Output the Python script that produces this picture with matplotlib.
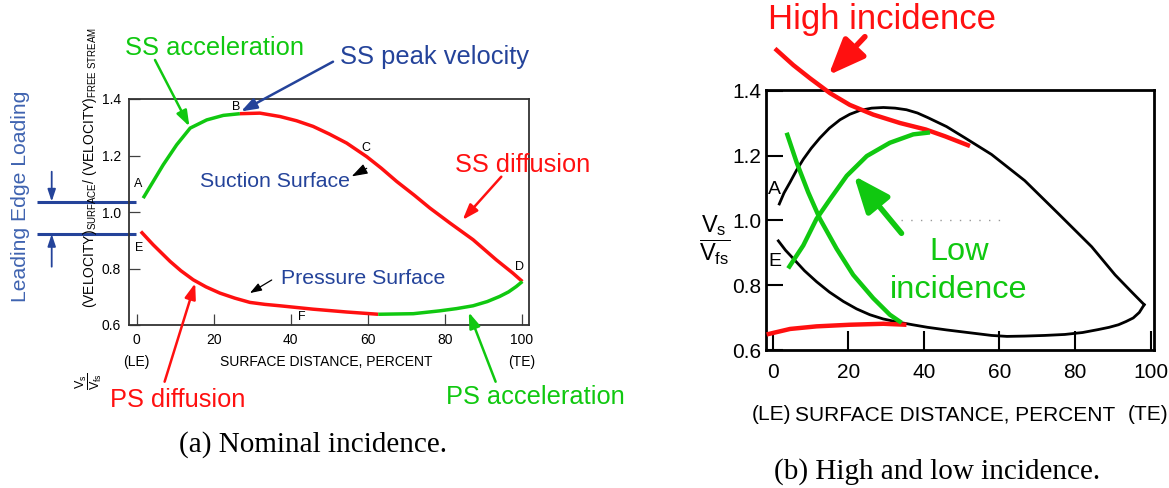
import matplotlib
matplotlib.use("Agg")
import matplotlib.pyplot as plt
from matplotlib.transforms import blended_transform_factory

plt.rcParams['font.family'] = ['Liberation Sans', 'DejaVu Sans']
plt.rcParams['mathtext.fontset'] = 'custom'
plt.rcParams['mathtext.rm'] = 'Liberation Sans'
plt.rcParams['mathtext.it'] = 'Liberation Sans:italic'
plt.rcParams['lines.solid_joinstyle'] = 'round'

W, H = 1169, 488

RED = '#ff1010'
GREEN = '#10c810'
BLUE = '#24439a'
LIGHT_BLUE = '#3f63b0'

# (a) nominal incidence: suction side, leading edge -> peak -> trailing edge
ss_accel_x = [1.7, 4.3, 6.9, 10.4, 13.9, 18.2, 22.5, 26.8]
ss_accel_y = [1.049, 1.108, 1.167, 1.238, 1.297, 1.326, 1.342, 1.348]
ss_diff_x = [26.8, 32.0, 37.2, 41.5, 45.8, 50.0, 54.5, 59.7, 63.5, 67.5, 72.0, 76.1, 81.2, 87.3, 93.3, 97.6, 100.1]
ss_diff_y = [1.348, 1.350, 1.338, 1.323, 1.303, 1.276, 1.244, 1.196, 1.155, 1.108, 1.060, 1.014, 0.962, 0.902, 0.831, 0.784, 0.754]

# (a) nominal incidence: pressure side
ps_diff_x = [1.1, 4.3, 8.7, 11.5, 14.7, 18.0, 21.6, 25.5, 29.4, 33.3, 37.2, 45.8, 54.5, 62.7]
ps_diff_y = [0.931, 0.884, 0.825, 0.792, 0.760, 0.735, 0.713, 0.695, 0.680, 0.673, 0.668, 0.656, 0.646, 0.638]
ps_accel_x = [62.7, 71.8, 78.6, 83.0, 87.3, 91.0, 94.2, 96.5, 98.5, 100.1]
ps_accel_y = [0.638, 0.640, 0.650, 0.658, 0.668, 0.683, 0.701, 0.717, 0.736, 0.754]

# leading edge loading marks (Vs/Vfs)
le_levels = [1.037, 0.922]

# (b) nominal distribution
nom_ss_x = [1.75, 3.0, 4.6, 6.3, 8.1, 10.2, 12.5, 15.0, 17.8, 20.4, 23.1, 26.2, 29.3, 32.4, 35.4,
            38.3, 41.0, 46.0, 50.9, 57.9, 66.7, 75.6, 84.4, 90.6, 95.0, 98.3]
nom_ss_y = [1.051, 1.085, 1.118, 1.155, 1.189, 1.223, 1.255, 1.285, 1.311, 1.328, 1.340, 1.347, 1.349,
            1.347, 1.342, 1.332, 1.318, 1.290, 1.255, 1.204, 1.123, 1.021, 0.919, 0.832, 0.779, 0.740]
nom_ps_x = [1.5, 3.4, 5.4, 8.4, 11.6, 15.0, 18.7, 22.2, 25.7, 29.2, 32.8, 37.0, 41.0, 46.0, 50.9,
            57.9, 62.0, 66.7, 72.0, 77.3, 82.0, 86.1, 89.0, 91.5, 93.5, 95.4, 97.0, 98.3]
nom_ps_y = [0.937, 0.908, 0.883, 0.845, 0.811, 0.779, 0.750, 0.727, 0.709, 0.696, 0.687, 0.678, 0.670,
            0.662, 0.655, 0.645, 0.642, 0.643, 0.645, 0.648, 0.654, 0.663, 0.670, 0.678, 0.688, 0.699,
            0.716, 0.740]

# (b) high incidence
high_ss_x = [0.6, 5.45, 9.9, 15.2, 20.4, 26.6, 33.7, 40.5, 45.6, 52.2]
high_ss_y = [1.531, 1.480, 1.439, 1.393, 1.357, 1.327, 1.301, 1.281, 1.260, 1.230]
high_ps_x = [-1.6, 4.6, 11.6, 20.4, 29.3, 35.4]
high_ps_y = [0.648, 0.665, 0.673, 0.678, 0.681, 0.678]

# (b) low incidence
low_ss_x = [4.1, 8.1, 11.6, 15.2, 19.6, 24.9, 31.0, 37.2, 41.6]
low_ss_y = [0.852, 0.923, 1.005, 1.066, 1.138, 1.199, 1.240, 1.266, 1.272]
low_ps_x = [3.7, 6.35, 9.4, 12.5, 16.9, 21.3, 26.6, 31.0, 34.1]
low_ps_y = [1.271, 1.179, 1.087, 1.005, 0.913, 0.832, 0.760, 0.709, 0.684]

x_ticks = [0, 20, 40, 60, 80, 100]
y_ticks = [0.6, 0.8, 1.0, 1.2, 1.4]


def fpos(x, y):
    # pixel position (from top left) -> figure fraction
    return (x / W, 1 - y / H)


def arrow(ax, tip, tail, color, lw, scale, hl=0.85, hw=0.3):
    ax.annotate('', xy=tip, xycoords='data', xytext=fpos(*tail),
                textcoords='figure fraction', annotation_clip=False,
                arrowprops=dict(arrowstyle=f'-|>,head_length={hl},head_width={hw}',
                                color=color, lw=lw, mutation_scale=scale,
                                shrinkA=0, shrinkB=0))


def fig_text(x, y, s, **kw):
    kw.setdefault('ha', 'center')
    kw.setdefault('va', 'center')
    fig.text(*fpos(x, y), s, **kw)


fig = plt.figure(figsize=(W / 100, H / 100), dpi=100)

# ---------------- (a) Nominal incidence ----------------
ax1 = fig.add_axes([129.4 / W, 1 - 325 / H, 399.9 / W, 226 / H])
ax1.set_xlim(-1.87, 101.9)
ax1.set_ylim(0.6, 1.4)
lw_a = 2.5
ax1.plot(ss_accel_x, ss_accel_y, color=GREEN, lw=lw_a, solid_capstyle='butt', zorder=3)
ax1.plot(ss_diff_x, ss_diff_y, color=RED, lw=lw_a, solid_capstyle='butt', zorder=3)
ax1.plot(ps_diff_x, ps_diff_y, color=RED, lw=lw_a, solid_capstyle='butt', zorder=3)
ax1.plot(ps_accel_x, ps_accel_y, color=GREEN, lw=lw_a, solid_capstyle='butt', zorder=3)

ax1.set_xticks(x_ticks)
ax1.set_xticklabels([str(v) for v in x_ticks])
ax1.set_yticks(y_ticks)
ax1.set_yticklabels([f'{v:.1f}' for v in y_ticks])
ax1.tick_params(direction='in', length=8, width=0.9, labelsize=10, pad=6, color='0.25')
for sp in ax1.spines.values():
    sp.set_linewidth(1.3)
    sp.set_color('0.2')

for lbl, (x, y) in {'A': (0.4, 1.099), 'B': (25.8, 1.373), 'C': (59.5, 1.228),
                    'D': (99.4, 0.807), 'E': (0.7, 0.874), 'F': (42.8, 0.63)}.items():
    ax1.text(x, y, lbl, fontsize=9, ha='center', va='center', zorder=4)

trans1 = blended_transform_factory(ax1.transData, fig.transFigure)
ax1.text(0, 1 - 361.7 / H, '(LE)', transform=trans1, fontsize=10, ha='center', va='center')
ax1.text(100, 1 - 361.7 / H, '(TE)', transform=trans1, fontsize=10, ha='center', va='center')
ax1.text(49.2, 1 - 361.7 / H, 'SURFACE DISTANCE, PERCENT', transform=trans1,
         fontsize=10, ha='center', va='center')

fig_text(90, 168, r'(VELOCITY)$_{\mathrm{SURFACE}}$/ (VELOCITY)$_{\mathrm{FREE\ STREAM}}$',
         rotation=90, fontsize=10)
fig_text(89, 381, r'$\dfrac{\mathrm{V_s}}{\mathrm{V_{fs}}}$', rotation=90, fontsize=9)

# annotations
fig_text(214.7, 48.3, 'SS acceleration', color=GREEN, fontsize=18.4)
fig_text(435, 56.7, 'SS peak velocity', color=BLUE, fontsize=18.4)
fig_text(523, 165, 'SS diffusion', color=RED, fontsize=18.3)
fig_text(274.6, 181.7, 'Suction Surface', color=BLUE, fontsize=15.3)
fig_text(363.3, 278, 'Pressure Surface', color=BLUE, fontsize=15.3)
fig_text(178, 400, 'PS diffusion', color=RED, fontsize=18.3)
fig_text(535, 396.7, 'PS acceleration', color=GREEN, fontsize=18.3)
fig_text(21, 196, 'Leading Edge Loading', color=LIGHT_BLUE, fontsize=15.2, rotation=90)

arrow(ax1, (13.7, 1.303), (155, 60), GREEN, 1.8, 11)
arrow(ax1, (27.1, 1.356), (333, 61.7), BLUE, 1.8, 11)
arrow(ax1, (84.6, 0.972), (501.3, 176.7), RED, 1.8, 11)
arrow(ax1, (15.2, 0.748), (164.6, 381.7), RED, 1.8, 11)
arrow(ax1, (86.2, 0.645), (495.6, 381.7), GREEN, 1.8, 11)
arrow(ax1, (29.4, 0.713), (271.7, 280), 'black', 0.9, 7, hl=1.0, hw=0.35)
arrow(ax1, (55.8, 1.126), (366.7, 168.3), 'black', 0.9, 8, hl=1.2, hw=0.4)

# leading edge loading bars
le_trans = blended_transform_factory(fig.transFigure, ax1.transData)
for lev in le_levels:
    ax1.plot([37 / W, 136 / W], [lev, lev], transform=le_trans, color=BLUE,
             lw=2.2, clip_on=False, solid_capstyle='butt')
ax1.annotate('', xy=(51.7 / W, le_levels[0]), xycoords=le_trans,
             xytext=fpos(51.7, 171.7), textcoords='figure fraction',
             arrowprops=dict(arrowstyle='-|>,head_length=0.9,head_width=0.3', color=BLUE,
                             lw=1.3, mutation_scale=8, shrinkA=0, shrinkB=0))
ax1.annotate('', xy=(51.7 / W, le_levels[1]), xycoords=le_trans,
             xytext=fpos(51.7, 266.7), textcoords='figure fraction',
             arrowprops=dict(arrowstyle='-|>,head_length=0.9,head_width=0.3', color=BLUE,
                             lw=1.3, mutation_scale=8, shrinkA=0, shrinkB=0))

fig_text(313, 445, '(a) Nominal incidence.', family='Liberation Serif', fontsize=21)

# ---------------- (b) High and low incidence ----------------
ax2 = fig.add_axes([765.5 / W, 1 - 350 / H, 388.9 / W, 260 / H])
ax2.set_xlim(-1.9, 101)
ax2.set_ylim(0.607, 1.403)
ax2.plot(nom_ss_x, nom_ss_y, color='black', lw=2.0, zorder=2)
ax2.plot(nom_ps_x, nom_ps_y, color='black', lw=2.0, zorder=2)
ax2.plot(high_ss_x, high_ss_y, color=RED, lw=3.2, solid_capstyle='butt', zorder=3, clip_on=False)
ax2.plot(high_ps_x, high_ps_y, color=RED, lw=3.2, solid_capstyle='butt', zorder=3)
ax2.plot(low_ss_x, low_ss_y, color=GREEN, lw=3.2, solid_capstyle='butt', zorder=4)
ax2.plot(low_ps_x, low_ps_y, color=GREEN, lw=3.2, solid_capstyle='butt', zorder=4)
ax2.plot([34, 61], [1.0, 1.0], color='0.6', lw=1.0, ls=(0, (1, 6)), zorder=1)

ax2.set_xticks(x_ticks)
ax2.set_xticklabels([str(v) for v in x_ticks])
ax2.set_yticks(y_ticks)
ax2.set_yticklabels([f'{v:.1f}' for v in y_ticks])
ax2.tick_params(axis='x', direction='in', length=14, width=1.5, labelsize=15, pad=9)
ax2.tick_params(axis='y', direction='in', length=12, width=1.5, labelsize=15, pad=3)
for sp in ax2.spines.values():
    sp.set_linewidth(2.0)

ax2.text(0.34, 1.097, 'A', fontsize=14, ha='center', va='center', zorder=5)
ax2.text(0.6, 0.873, 'E', fontsize=14, ha='center', va='center', zorder=5)

trans2 = blended_transform_factory(ax2.transData, fig.transFigure)
ax2.text(-0.4, 1 - 415 / H, '(LE)', transform=trans2, fontsize=15, ha='center', va='center')
ax2.text(99.2, 1 - 415 / H, '(TE)', transform=trans2, fontsize=15, ha='center', va='center')
ax2.text(48.4, 1 - 415 / H, 'SURFACE DISTANCE, PERCENT', transform=trans2,
         fontsize=15, ha='center', va='center')

fig_text(715, 240, r'$\dfrac{\mathrm{V_s}}{\mathrm{V_{fs}}}$', fontsize=17)

fig_text(882, 20, 'High incidence', color=RED, fontsize=25)
fig_text(959, 251.7, 'Low', color=GREEN, fontsize=23.4)
fig_text(959, 290, 'incidence', color=GREEN, fontsize=23.4)
arrow(ax2, (14.8, 1.449), (864.9, 36.7), RED, 4.0, 20, hl=1.1, hw=0.45)
arrow(ax2, (21.5, 1.138), (901.5, 233.3), GREEN, 4.0, 20, hl=1.1, hw=0.45)

fig_text(937.5, 472, '(b) High and low incidence.', family='Liberation Serif', fontsize=21)

plt.savefig('out.png', dpi=100)
